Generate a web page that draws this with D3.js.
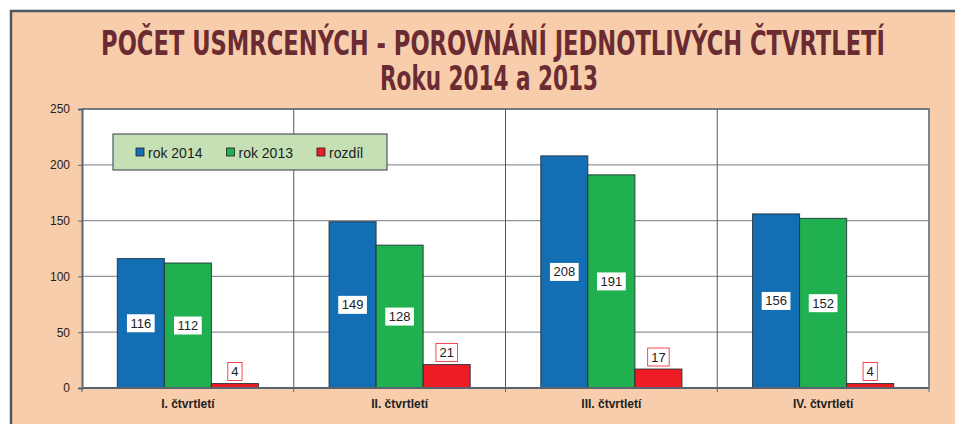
<!DOCTYPE html>
<html><head><meta charset="utf-8">
<script src="https://cdn.jsdelivr.net/npm/d3@7"></script>
<style>body{margin:0;background:#fff}svg{display:block}</style>
</head><body><svg id="c" width="955" height="424"></svg>
<script>
const categories = ["I. čtvrtletí","II. čtvrtletí","III. čtvrtletí","IV. čtvrtletí"];
const seriesNames = ["rok 2014","rok 2013","rozdíl"];
const rok2014 = [116,149,208,156];
const rok2013 = [112,128,191,152];
const rozdil = [4,21,17,4];
const yTicks = [0,50,100,150,200,250];
const titleLine1 = "POČET USMRCENÝCH - POROVNÁNÍ JEDNOTLIVÝCH ČTVRTLETÍ";
const titleLine2 = "Roku 2014 a 2013";

const colors = ["#146eb4","#21b04f","#ee1d25"];
const seriesVals = [rok2014, rok2013, rozdil];

const svg = d3.select("#c");
svg.append("rect").attr("x",11).attr("y",11).attr("width",960).attr("height",430)
  .attr("fill","#f8cdab").attr("stroke","#4d5862").attr("stroke-width",2.5);

const tc = "#6b2b33";
const tf = "'Liberation Sans Narrow','DejaVu Sans Condensed',sans-serif";
function fitTitle(txt, cx, by, target, fs){
  const g = svg.append("g");
  const t = g.append("text").attr("x",0).attr("y",0).attr("text-anchor","middle")
    .attr("font-family",tf).attr("font-weight","bold").attr("font-size",fs).attr("fill",tc).text(txt);
  const w = t.node().getComputedTextLength();
  g.attr("transform",`translate(${cx},${by}) scale(${target/w},1)`);
}
fitTitle(titleLine1, 493, 55, 784, 33);
fitTitle(titleLine2, 489, 90, 218, 33);

const L=82, R=929, T=109, B=388;
const y = d3.scaleLinear().domain([0,250]).range([B,T]);
const x = d3.scaleBand().domain(categories).range([L,R]).padding(0);
const xs = d3.scaleBand().domain(seriesNames).range([0,x.bandwidth()]).paddingInner(0).paddingOuter(0.75);

svg.append("rect").attr("x",L).attr("y",T).attr("width",R-L).attr("height",B-T).attr("fill","#fff");
svg.append("g").selectAll("line").data(yTicks.filter(d=>d>0)).join("line")
  .attr("x1",L).attr("x2",R).attr("y1",d=>y(d)).attr("y2",d=>y(d))
  .attr("stroke","#8c939b").attr("stroke-width",1.2);
svg.append("g").selectAll("line").data(categories.slice(1)).join("line")
  .attr("x1",d=>x(d)).attr("x2",d=>x(d)).attr("y1",T).attr("y2",B)
  .attr("stroke","#4d5862").attr("stroke-width",1);
svg.append("path").attr("d",`M${L},${T}H${R}V${B}`).attr("fill","none").attr("stroke","#5a646e").attr("stroke-width",1.5);

const bars = [];
categories.forEach((c,i)=>seriesNames.forEach((s,j)=>bars.push({c,s,j,v:seriesVals[j][i]})));
svg.append("g").selectAll("rect").data(bars).join("rect")
  .attr("x",d=>x(d.c)+xs(d.s)).attr("width",xs.bandwidth())
  .attr("y",d=>y(d.v)).attr("height",d=>y(0)-y(d.v))
  .attr("fill",d=>colors[d.j]).attr("stroke","#1f2a33").attr("stroke-opacity",0.85).attr("stroke-width",1);

const yAxis = svg.append("g").attr("transform",`translate(${L},0)`)
  .call(d3.axisLeft(y).tickValues(yTicks).tickSize(4).tickPadding(8));
yAxis.select(".domain").attr("stroke","#5a646e").attr("stroke-width",2);
yAxis.selectAll(".tick line").attr("stroke","#5a646e");
yAxis.selectAll("text").attr("font-family","Arial,'Liberation Sans',sans-serif").attr("font-size",12).attr("fill","#222");
svg.append("line").attr("x1",L).attr("x2",R).attr("y1",B).attr("y2",B).attr("stroke","#5a646e").attr("stroke-width",2.2);
svg.append("g").selectAll("line").data(categories.concat(["end"])).join("line")
  .attr("x1",(d,i)=>i<4?x(d):R).attr("x2",(d,i)=>i<4?x(d):R).attr("y1",B).attr("y2",B+4)
  .attr("stroke","#5a646e");
svg.append("g").selectAll("text").data(categories).join("text")
  .attr("x",d=>x(d)+x.bandwidth()/2).attr("y",408).attr("text-anchor","middle")
  .attr("font-family","Arial,'Liberation Sans',sans-serif").attr("font-weight","bold").attr("font-size",12)
  .attr("fill","#222").text(d=>d);

const lg = svg.append("g");
bars.forEach(d=>{
  const cx = x(d.c)+xs(d.s)+xs.bandwidth()/2;
  const cy = d.j<2 ? (y(d.v)+y(0))/2 : y(d.v)-12;
  const g = lg.append("g");
  const t = g.append("text").attr("x",cx).attr("y",cy+4.5).attr("text-anchor","middle")
    .attr("font-family","Arial,'Liberation Sans',sans-serif").attr("font-size",13).attr("fill","#222").text(d.v);
  const w = t.node().getComputedTextLength();
  g.insert("rect","text").attr("x",cx-w/2-3.5).attr("y",cy-9).attr("width",w+7).attr("height",18)
    .attr("fill","#fff").attr("stroke",d.j===2?"#ee1d25":"none").attr("stroke-width",0.8);
});

const leg = svg.append("g");
leg.append("rect").attr("x",113).attr("y",134).attr("width",274).attr("height",36)
  .attr("fill","#c5e0b5").attr("stroke","#4d5862").attr("stroke-width",1.2);
let lx = 136;
seriesNames.forEach((s,j)=>{
  leg.append("rect").attr("x",lx).attr("y",148).attr("width",8).attr("height",8)
    .attr("fill",colors[j]).attr("stroke","#222").attr("stroke-width",0.8);
  const t = leg.append("text").attr("x",lx+12).attr("y",157.5)
    .attr("font-family","Arial,'Liberation Sans',sans-serif").attr("font-size",14).attr("fill","#222").text(s);
  lx += 12 + t.node().getComputedTextLength() + 24;
});
</script></body></html>
